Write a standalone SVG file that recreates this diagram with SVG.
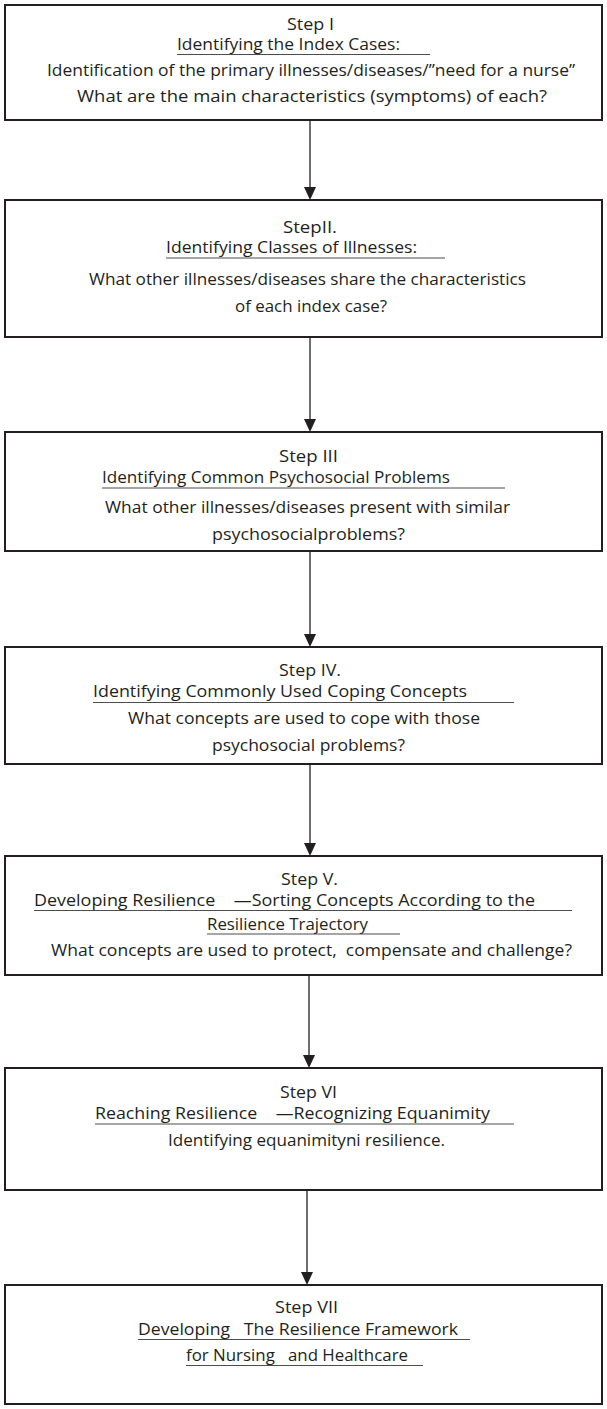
<svg xmlns="http://www.w3.org/2000/svg" width="607" height="1409" viewBox="0 0 607 1409">
<defs>
<style>
.box{fill:#fff;stroke:#231f20;stroke-width:2}
.t{font-family:"Open Sans","Liberation Sans",sans-serif;font-size:17px;fill:#231f20}
.c{text-anchor:middle}
.u{stroke:#4d4d4d;stroke-width:1.2}
.con{stroke:#231f20;stroke-width:1.3;fill:none}
.ah{fill:#231f20}
</style>
</defs>
<rect width="607" height="1409" fill="#fff"/>
<g id="connectors">
<line class="con" x1="310" y1="121" x2="310" y2="188"/>
<polygon class="ah" points="304,187 316,187 310,200"/>
<line class="con" x1="310" y1="338" x2="310" y2="420"/>
<polygon class="ah" points="304,419 316,419 310,432"/>
<line class="con" x1="310" y1="552" x2="310" y2="635"/>
<polygon class="ah" points="304,634 316,634 310,647"/>
<line class="con" x1="310" y1="765" x2="310" y2="844"/>
<polygon class="ah" points="304,843 316,843 310,856"/>
<line class="con" x1="309" y1="976" x2="309" y2="1056"/>
<polygon class="ah" points="303,1055 315,1055 309,1068"/>
<line class="con" x1="307" y1="1191" x2="307" y2="1273"/>
<polygon class="ah" points="301,1272 313,1272 307,1285"/>
</g>
<g id="step1">
<rect class="box" x="5" y="5" width="597" height="115"/>
<text class="t" x="287" y="30" textLength="47" lengthAdjust="spacingAndGlyphs">Step I</text>
<text class="t" x="177" y="50" textLength="223" lengthAdjust="spacingAndGlyphs">Identifying the Index Cases:</text>
<line class="u" x1="177" y1="54.5" x2="430" y2="54.5"/>
<text class="t" x="47" y="76" textLength="528" lengthAdjust="spacingAndGlyphs">Identification of the primary illnesses/diseases/”need for a nurse”</text>
<text class="t" x="77" y="102" textLength="470" lengthAdjust="spacingAndGlyphs">What are the main characteristics (symptoms) of each?</text>
</g>
<g id="step2">
<rect class="box" x="5" y="200" width="597" height="137"/>
<text class="t" x="283" y="233" textLength="54" lengthAdjust="spacingAndGlyphs">StepII.</text>
<text class="t" x="166" y="253" textLength="251" lengthAdjust="spacingAndGlyphs">Identifying Classes of Illnesses:</text>
<line class="u" x1="166" y1="258" x2="445" y2="258"/>
<text class="t" x="89" y="285" textLength="437" lengthAdjust="spacingAndGlyphs">What other illnesses/diseases share the characteristics</text>
<text class="t" x="235" y="312" textLength="152" lengthAdjust="spacingAndGlyphs">of each index case?</text>
</g>
<g id="step3">
<rect class="box" x="5" y="432" width="597" height="119"/>
<text class="t" x="279" y="462" textLength="59" lengthAdjust="spacingAndGlyphs">Step III</text>
<text class="t" x="102" y="483" textLength="348" lengthAdjust="spacingAndGlyphs">Identifying Common Psychosocial Problems</text>
<line class="u" x1="102" y1="488" x2="505" y2="488"/>
<text class="t" x="105" y="513" textLength="405" lengthAdjust="spacingAndGlyphs">What other illnesses/diseases present with similar</text>
<text class="t" x="212" y="540" textLength="193" lengthAdjust="spacingAndGlyphs">psychosocialproblems?</text>
</g>
<g id="step4">
<rect class="box" x="5" y="647" width="597" height="117"/>
<text class="t" x="279" y="676" textLength="62" lengthAdjust="spacingAndGlyphs">Step IV.</text>
<text class="t" x="93" y="697" textLength="374" lengthAdjust="spacingAndGlyphs">Identifying Commonly Used Coping Concepts</text>
<line class="u" x1="93" y1="702.5" x2="514" y2="702.5"/>
<text class="t" x="128" y="724" textLength="352" lengthAdjust="spacingAndGlyphs">What concepts are used to cope with those</text>
<text class="t" x="212" y="751" textLength="193" lengthAdjust="spacingAndGlyphs">psychosocial problems?</text>
</g>
<g id="step5">
<rect class="box" x="5" y="856" width="597" height="119"/>
<text class="t" x="281" y="885" textLength="57" lengthAdjust="spacingAndGlyphs">Step V.</text>
<text class="t" x="34" y="906" textLength="501" lengthAdjust="spacingAndGlyphs" xml:space="preserve">Developing Resilience    —Sorting Concepts According to the</text>
<line class="u" x1="34" y1="910.5" x2="572" y2="910.5"/>
<text class="t" x="207" y="930" textLength="161" lengthAdjust="spacingAndGlyphs">Resilience Trajectory</text>
<line class="u" x1="207" y1="934" x2="400" y2="934"/>
<text class="t" x="51" y="956" textLength="521" lengthAdjust="spacingAndGlyphs" xml:space="preserve">What concepts are used to protect,  compensate and challenge?</text>
</g>
<g id="step6">
<rect class="box" x="5" y="1068" width="597" height="122"/>
<text class="t" x="280" y="1098" textLength="57" lengthAdjust="spacingAndGlyphs">Step VI</text>
<text class="t" x="95" y="1119" textLength="395" lengthAdjust="spacingAndGlyphs" xml:space="preserve">Reaching Resilience    —Recognizing Equanimity</text>
<line class="u" x1="95" y1="1124" x2="514" y2="1124"/>
<text class="t" x="168" y="1146" textLength="277" lengthAdjust="spacingAndGlyphs">Identifying equanimityni resilience.</text>
</g>
<g id="step7">
<rect class="box" x="5" y="1285" width="597" height="119"/>
<text class="t" x="275" y="1313" textLength="63" lengthAdjust="spacingAndGlyphs">Step VII</text>
<text class="t" x="138" y="1335" textLength="320" lengthAdjust="spacingAndGlyphs" xml:space="preserve">Developing   The Resilience Framework</text>
<line class="u" x1="138" y1="1339.5" x2="470" y2="1339.5"/>
<text class="t" x="186" y="1361" textLength="222" lengthAdjust="spacingAndGlyphs" xml:space="preserve">for Nursing   and Healthcare</text>
<line class="u" x1="186" y1="1365.5" x2="423" y2="1365.5"/>
</g>
</svg>
